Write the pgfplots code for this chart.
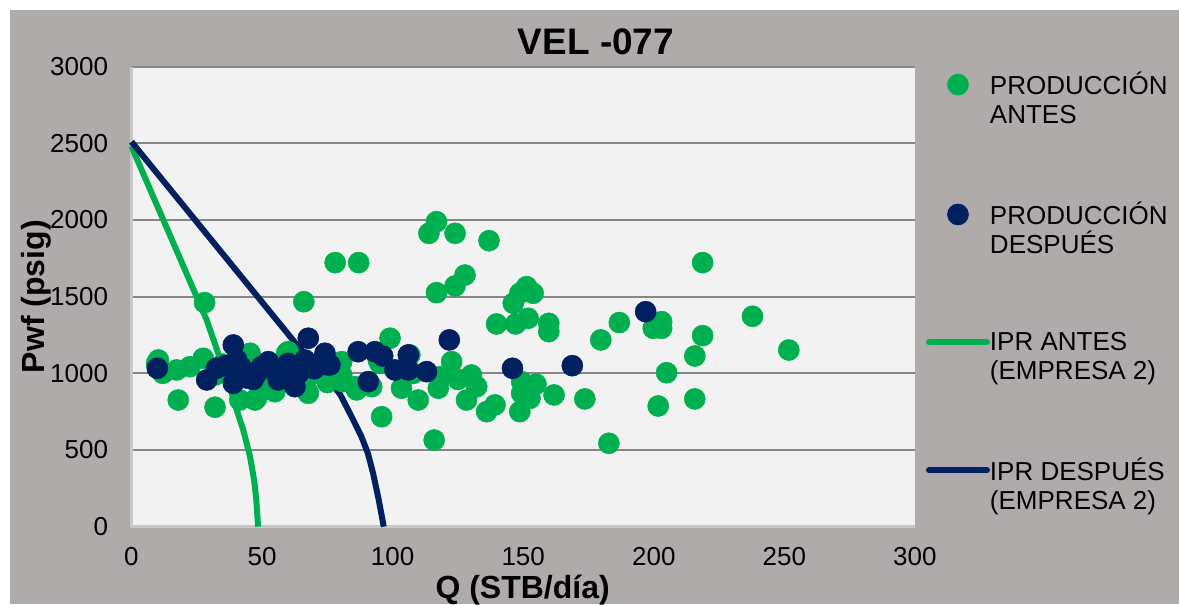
\documentclass[border=0pt]{standalone}
\usepackage{pgfplots}
\pgfplotsset{compat=1.18}
\usepackage{fontspec}
\setmainfont{Liberation Sans}
\definecolor{bggray}{RGB}{175,171,170}
\definecolor{plotbg}{RGB}{242,242,242}
\definecolor{gridc}{RGB}{134,134,134}
\definecolor{axc}{RGB}{200,200,200}
\definecolor{antes}{RGB}{0,176,80}
\definecolor{despues}{RGB}{0,32,96}
\begin{document}
\begin{tikzpicture}
\useasboundingbox (0,0) rectangle (884.25pt,453pt);
\fill[white] (0,0) rectangle (884.25pt,453pt);
\fill[bggray] (7.5pt,0) rectangle (884.25pt,445.5pt);
\begin{axis}[
  at={(98.6pt,58pt)}, anchor=south west,
  scale only axis, width=587.6pt, height=345pt,
  xmin=0, xmax=300, ymin=0, ymax=3000,
  xtick={0,50,...,300}, ytick={0,500,...,3000},
  /pgf/number format/assume math mode=true,
  /pgf/number format/1000 sep={},
  ymajorgrids, grid style={gridc, line width=1.5pt},
  axis background/.style={fill=plotbg},
  axis x line*=bottom, axis y line*=left,
  x axis line style={-, draw=axc, line width=2pt},
  y axis line style={-, draw=axc, line width=2pt},
  major tick length=0pt,
  tick label style={font=\fontsize{19.5}{21}\selectfont, text=black},
  yticklabel style={anchor=east, inner sep=0pt, xshift=-17.4pt},
  xticklabel style={anchor=north, inner sep=0pt, yshift=-15.6pt},
  clip=false,
  legend image code/.code={\draw[mark repeat=2,mark phase=2,#1,line cap=round] plot coordinates {(0pt,0pt) (21.75pt,0pt) (43.5pt,0pt)};},
  legend style={at={(1.0141,0.9877)}, anchor=north west, draw=none, fill=none,
    inner sep=0pt, outer sep=0pt, row sep=79pt, column sep=0pt,
    font=\fontsize{19.5}{22}\selectfont, nodes={inner sep=0pt}},
  legend cell align=left,
]
\addplot[only marks, mark=*, mark size=7.9pt, color=antes, mark options={draw=antes, fill=antes}] table {
x y
9.6 1065
12 1000
10.3 1087
17.9 826
17.3 1022
22.4 1043
27.5 1098
28 1461
32 779
32 989
35 1060
38 1000
41.5 826
45.4 1131
47.3 826
47.9 837
50 900
52 1000
54.9 880
57 950
59.4 1131
60 1141
62 1000
64 950
66.0 1467
67.7 870
67.1 892
70 1000
72 1050
75 940
78 1722
80.5 1076
80.5 989
81 946
85.6 913
86.2 892
87 1722
92 913
95.1 1065
94.5 1087
95.8 717
99.0 1229
103.4 903
106.6 1120
107.9 1000
109.8 826
113.9 1913
115.9 565
116.8 1989
116.8 1526
117.5 903
118.1 978
122.6 1076
123.9 1913
123.9 1570
125 960
127.7 1641
128.3 826
130.2 989
132.2 913
136.0 750
136.9 1865
139.2 794
139.8 1322
146.2 1457
147.1 1322
148.7 1522
148.7 750
149.4 870
149.4 946
151.3 1565
151.9 1359
152.6 837
153.8 1522
154.9 929
159.8 1326
159.8 1272
161.8 859
173.6 833
179.7 1218
182.8 544
186.8 1331
199.8 1294
203.0 1294
203.0 1337
201.7 787
204.9 1004
215.7 1113
215.7 833
218.7 1722
218.7 1246
237.8 1372
251.7 1152
};
\addlegendentry{\rule[-4pt]{0pt}{18pt}\rlap{\raisebox{-21.75pt}[0pt][0pt]{ANTES}}PRODUCCIÓN}
\addplot[only marks, mark=*, mark size=7.9pt, color=despues, mark options={draw=despues, fill=despues}] table {
x y
9.9 1033
28.8 957
32.6 1033
36 1050
39 1185
39 935
40.3 1087
42 1040
44.1 1000
44 970
46.6 960
48 1000
49.8 1043
52.4 1076
54 1030
56.2 957
58 1000
60 1065
62 1040
62.6 913
64 1000
66.4 1087
67.7 1229
68 1060
70 1030
72 1070
74.1 1131
75.3 1055
76 1055
86.8 1141
90.7 946
93.2 1141
96.2 1113
100.9 1022
106 1120
106 1022
113 1011
121.7 1218
145.9 1033
168.8 1050
196.9 1402
};
\addlegendentry{\rule[-4pt]{0pt}{18pt}\rlap{\raisebox{-21.75pt}[0pt][0pt]{DESPUÉS}}PRODUCCIÓN}
\addplot[antes, line width=4.5pt, line join=round] table {
x y
0 2480
28.8 1348
33.2 1131
37.7 913
40.5 750
42.8 631
45.4 457
47 300
47.8 174
48.5 0
};
\addlegendentry{\rule[-4pt]{0pt}{18pt}\rlap{\raisebox{-21.75pt}[0pt][0pt]{(EMPRESA 2)}}IPR ANTES}
\addplot[despues, line width=4.5pt, line join=round] table {
x y
0 2510
63.9 1174
74.7 978
80 860
84.3 717
88 590
90.5 480
92.5 350
94.7 174
96.6 0
};
\addlegendentry{\rule[-4pt]{0pt}{18pt}\rlap{\raisebox{-21.75pt}[0pt][0pt]{(EMPRESA 2)}}IPR DESPUÉS}
\end{axis}
\node[font=\bfseries\fontsize{27.7}{30}\selectfont, inner sep=0pt] at (447pt,421.5pt) {VEL -077};
\node[anchor=base, font=\bfseries\fontsize{24}{28}\selectfont, inner sep=0pt] at (392pt,4.5pt) {Q (STB/día)};
\node[rotate=90, anchor=base, font=\bfseries\fontsize{24}{28}\selectfont, inner sep=0pt] at (33pt,230.5pt) {Pwf (psig)};
\end{tikzpicture}
\end{document}
